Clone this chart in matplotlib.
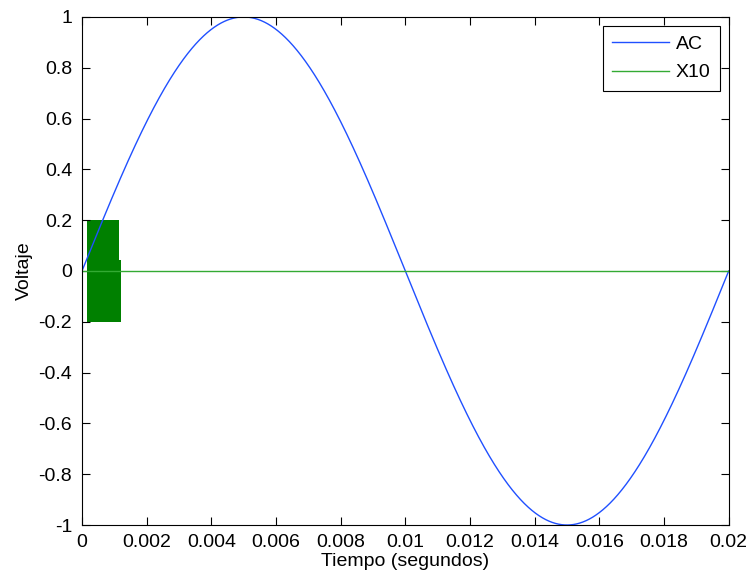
import numpy as np
import matplotlib.pyplot as plt

# AC signal: 50 Hz, peak 1 V, one period shown
ac_freq = 50.0
ac_amp = 1.0
t_end = 0.02

# X10 signal: zero everywhere except a short dense burst near t=0
x10_t = [0.0, 0.00015, 0.0012, 0.02]
x10_v = [0.0, 0.0, 0.0, 0.0]
burst_t = [0.00015, 0.00114, 0.00114, 0.0012]
burst_hi = [0.2, 0.2, 0.045, 0.045]
burst_lo = [-0.2, -0.2, -0.2, -0.2]

xticks = [0, 0.002, 0.004, 0.006, 0.008, 0.01, 0.012, 0.014, 0.016, 0.018, 0.02]
xtick_labels = ["0", "0.002", "0.004", "0.006", "0.008", "0.01", "0.012",
                "0.014", "0.016", "0.018", "0.02"]
yticks = [-1, -0.8, -0.6, -0.4, -0.2, 0, 0.2, 0.4, 0.6, 0.8, 1]
ytick_labels = ["-1", "-0.8", "-0.6", "-0.4", "-0.2", "0", "0.2", "0.4",
                "0.6", "0.8", "1"]

plt.rcParams["font.family"] = ["Liberation Sans", "DejaVu Sans"]
plt.rcParams["font.size"] = 14

fig = plt.figure(figsize=(7.52, 5.8), dpi=100)
ax = fig.add_axes([0.109, 0.0948, 0.860, 0.876])

t = np.linspace(0, t_end, 2001)
ax.plot(t, ac_amp * np.sin(2 * np.pi * ac_freq * t), color="#2050ff", lw=1.0, label="AC")
ax.plot(x10_t, x10_v, color="#33aa33", lw=1.0, label="X10")
ax.fill_between(burst_t, burst_lo, burst_hi, color="#008000", lw=0)

ax.set_xlim(0, t_end)
ax.set_ylim(-1, 1)
ax.set_xticks(xticks)
ax.set_xticklabels(xtick_labels)
ax.set_yticks(yticks)
ax.set_yticklabels(ytick_labels)
ax.tick_params(direction="in", length=6, width=0.8, top=True, right=True, pad=6.8)
ax.tick_params(axis="y", pad=7)
ax.set_xlabel("Tiempo (segundos)", labelpad=0.8)
ax.set_ylabel("Voltaje", labelpad=4)

leg = ax.legend(loc="upper right", fancybox=False, framealpha=1, edgecolor="black",
                handlelength=2.9, handletextpad=0.35, borderpad=0.5,
                labelspacing=0.55, borderaxespad=0.45)
leg.get_frame().set_linewidth(0.8)

fig.savefig("out.png", dpi=100)
